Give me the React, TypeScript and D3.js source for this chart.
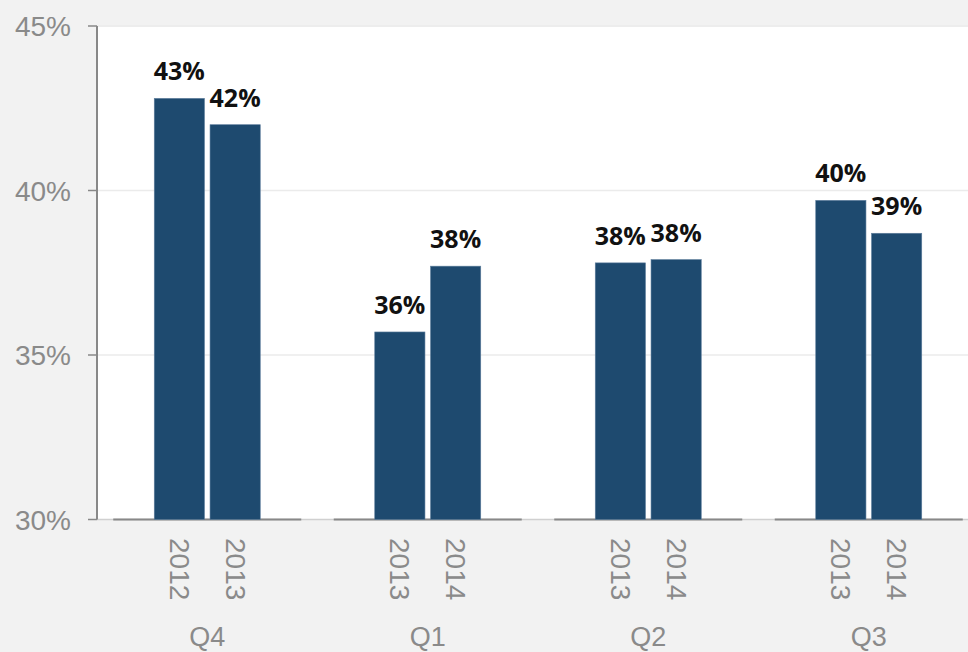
import React from "react";
import * as d3 from "d3";

const quarters = ["Q4", "Q1", "Q2", "Q3"];
const years = [
  ["2012", "2013"],
  ["2013", "2014"],
  ["2013", "2014"],
  ["2013", "2014"],
];
const values = [
  [42.8, 42.0],
  [35.7, 37.7],
  [37.8, 37.9],
  [39.7, 38.7],
];
const labels = [
  ["43%", "42%"],
  ["36%", "38%"],
  ["38%", "38%"],
  ["40%", "39%"],
];
const yTicks = [30, 35, 40, 45];

const W = 968;
const H = 652;

export default function App() {
  const y = d3.scaleLinear().domain([30, 45]).range([519.5, 26]);
  const x = d3.scaleBand<string>().domain(quarters).range([97, 979]).padding(0);
  const sub = d3.scaleBand<number>().domain([0, 1]).range([-53, 53]).paddingInner(0.1);
  const axisColor = "#888888";
  const barColor = "#1e4a6f";
  return (
    <div style={{ position: "absolute", left: 0, top: 0 }}>
      <svg width={W} height={H} style={{ display: "block" }}>
        <rect x={0} y={0} width={W} height={H} fill="#f2f2f2" />
        <rect x={97} y={27} width={W - 97} height={y(30) - 27} fill="#ffffff" />
        {yTicks.slice(1).map((t) => (
          <line key={t} x1={97} x2={W} y1={y(t)} y2={y(t)} stroke="#ebebeb" strokeWidth={1.5} />
        ))}
        <line x1={97} x2={W} y1={y(30)} y2={y(30)} stroke="#d0d0d0" strokeWidth={1.5} />
        {quarters.map((q, i) => {
          const cx = (x(q) as number) + x.bandwidth() / 2;
          return (
            <g key={q}>
              <line x1={cx - 94} x2={cx + 94} y1={y(30)} y2={y(30)} stroke={axisColor} strokeWidth={2} />
              {values[i].map((v, j) => {
                const bx = cx + (sub(j) as number);
                const bw = sub.bandwidth();
                return (
                  <g key={j}>
                    <rect x={bx} y={y(v)} width={bw} height={y(30) - y(v)} fill={barColor} stroke="#5d7d9c" strokeWidth={0.6} />
                    <text
                      x={bx + bw / 2}
                      y={y(v) - 18}
                      textAnchor="middle"
                      fontFamily="'Open Sans', 'Noto Sans', sans-serif"
                      fontWeight={700}
                      fontSize={25}
                      fill="#111111"
                    >
                      {labels[i][j]}
                    </text>
                    <text
                      transform={`translate(${bx + bw / 2},538) rotate(90)`}
                      dominantBaseline="central"
                      textAnchor="start"
                      fontFamily="'Liberation Sans', Arial, sans-serif"
                      fontSize={28}
                      fill="#8a8a8a"
                    >
                      {years[i][j]}
                    </text>
                  </g>
                );
              })}
              <text
                x={cx}
                y={646}
                textAnchor="middle"
                fontFamily="'Liberation Sans', Arial, sans-serif"
                fontSize={27}
                fill="#8a8a8a"
              >
                {q}
              </text>
            </g>
          );
        })}
        <line x1={97} x2={97} y1={26} y2={y(30)} stroke={axisColor} strokeWidth={2} />
        {yTicks.map((t) => (
          <g key={t}>
            <line x1={88} x2={97} y1={y(t)} y2={y(t)} stroke={axisColor} strokeWidth={1.5} />
            <text
              x={71}
              y={y(t)}
              dy="0.36em"
              textAnchor="end"
              fontFamily="'Liberation Sans', Arial, sans-serif"
              fontSize={28}
              fill="#8a8a8a"
            >
              {`${t}%`}
            </text>
          </g>
        ))}
      </svg>
    </div>
  );
}
